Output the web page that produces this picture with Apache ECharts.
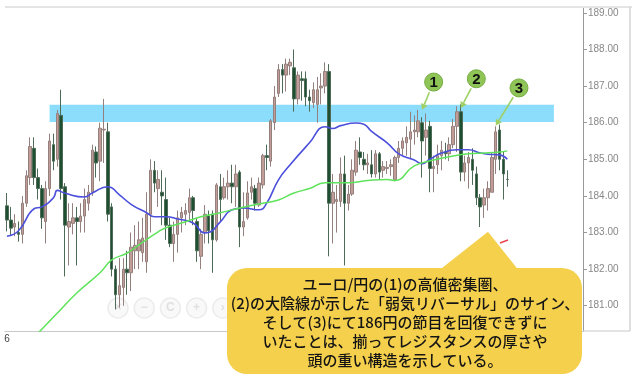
<!DOCTYPE html>
<html>
<head>
<meta charset="utf-8">
<script src="https://cdn.jsdelivr.net/npm/echarts@6/dist/echarts.min.js"></script>
<style>
  html, body { margin: 0; padding: 0; background: #fff; }
  #chart { width: 640px; height: 380px; }
</style>
</head>
<body>
<div id="chart"></div>
<script>
// 149 slots on the time axis, candles fill the first 130
const slotCount = 149
const firstLabel = '6'

// [open, close, low, high]
const ohlc = [
  [183.73, 183.34, 183.03, 184.08], [183.34, 183.12, 182.93, 183.7], [183.15, 183.25, 182.9, 183.5],
  [183.0, 182.95, 182.75, 183.3], [182.95, 183.8, 182.7, 184.0], [183.8, 184.55, 183.7, 184.7],
  [184.5, 185.35, 184.3, 185.6], [185.3, 184.5, 184.3, 185.6], [184.5, 184.2, 183.9, 184.75],
  [184.2, 183.4, 183.1, 184.3], [183.3, 184.2, 182.7, 184.4], [184.2, 185.5, 184.0, 185.7],
  [185.4, 184.95, 184.7, 185.7], [185.0, 186.25, 184.8, 186.35], [186.2, 184.2, 183.9, 186.9],
  [184.25, 183.2, 181.8, 184.35], [183.15, 183.3, 182.1, 183.8], [183.25, 183.4, 182.95, 183.8],
  [183.4, 183.3, 182.1, 183.7], [183.3, 183.45, 183.0, 183.8], [183.45, 183.9, 183.0, 184.2],
  [183.8, 184.1, 183.6, 184.3], [184.1, 185.25, 184.0, 185.4], [185.2, 184.9, 184.5, 185.35],
  [184.95, 185.85, 184.4, 186.0], [185.8, 185.82, 184.9, 186.65], [185.75, 183.5, 183.3, 186.0],
  [183.7, 182.0, 181.8, 183.8], [182.0, 181.3, 180.9, 182.1], [181.3, 181.55, 180.95, 182.3],
  [181.5, 182.0, 181.0, 182.3], [182.0, 181.9, 181.3, 182.5], [181.9, 182.6, 181.4, 183.0],
  [182.5, 182.65, 182.0, 183.2], [182.5, 182.8, 182.0, 183.3], [182.45, 182.85, 182.2, 183.4],
  [182.2, 183.5, 181.9, 184.1], [183.5, 184.7, 183.0, 185.0], [184.7, 184.35, 184.1, 184.95],
  [184.2, 184.45, 183.7, 184.7], [184.1, 184.0, 183.2, 184.7], [183.9, 183.2, 182.8, 184.5],
  [183.2, 182.7, 182.6, 183.4], [182.7, 182.95, 182.2, 183.3], [182.95, 183.4, 182.45, 183.6],
  [183.4, 183.55, 183.0, 183.7], [183.5, 183.6, 183.2, 183.8], [183.55, 183.95, 183.3, 184.2],
  [183.95, 183.6, 183.2, 184.0], [183.3, 182.5, 182.2, 183.4], [182.35, 182.95, 182.0, 183.1],
  [183.0, 183.5, 182.7, 183.75], [183.45, 183.05, 182.7, 183.6], [183.5, 182.8, 181.9, 183.6],
  [182.8, 184.3, 182.75, 184.35], [184.25, 183.9, 183.3, 184.6], [183.95, 184.25, 183.9, 184.5],
  [184.25, 184.35, 183.9, 184.7], [184.35, 184.25, 183.8, 184.85], [184.25, 184.6, 183.7, 184.85],
  [184.65, 183.15, 182.6, 184.7], [183.15, 183.3, 182.9, 184.1], [183.4, 184.08, 183.35, 184.4],
  [184.1, 184.25, 183.9, 184.5], [184.2, 183.8, 183.6, 184.3], [183.75, 184.35, 183.7, 184.5],
  [184.3, 185.1, 184.2, 185.15], [185.1, 185.05, 184.7, 185.4], [184.95, 186.05, 184.8, 186.1],
  [186.0, 186.7, 185.8, 187.0], [186.8, 187.45, 186.7, 187.6], [187.45, 187.3, 186.8, 187.6],
  [187.3, 187.6, 186.85, 187.75], [187.55, 187.65, 187.3, 187.75], [187.5, 186.65, 186.3, 188.0],
  [186.65, 187.3, 186.5, 187.4], [187.2, 187.15, 186.6, 187.4], [187.2, 186.7, 186.45, 187.4],
  [186.7, 186.6, 186.3, 186.9], [186.55, 186.9, 186.4, 187.1], [186.5, 186.9, 186.0, 187.25],
  [186.95, 187.0, 186.5, 187.35], [187.0, 187.4, 186.8, 187.65], [187.4, 183.8, 182.35, 187.6],
  [183.8, 184.1, 182.7, 184.6], [183.85, 183.9, 183.0, 184.3], [183.85, 184.6, 183.7, 185.05],
  [184.6, 183.8, 182.1, 185.1], [183.8, 184.05, 183.6, 184.3], [184.05, 184.7, 184.0, 185.0],
  [184.65, 185.25, 184.55, 185.5], [185.2, 185.05, 184.85, 185.6], [185.0, 184.85, 184.7, 185.2],
  [184.85, 184.9, 184.6, 185.15], [184.85, 184.6, 184.5, 185.25], [184.6, 185.15, 184.5, 185.25],
  [185.15, 184.65, 184.45, 185.2], [184.7, 184.8, 184.5, 184.95], [184.75, 184.78, 184.6, 184.95],
  [184.8, 184.85, 184.55, 185.0], [184.45, 185.05, 184.4, 185.1], [185.05, 185.3, 184.9, 185.5],
  [185.3, 185.5, 185.1, 185.6], [185.45, 185.6, 185.1, 185.9], [185.55, 185.75, 185.0, 186.3],
  [185.75, 185.8, 185.4, 186.2], [185.75, 186.05, 185.6, 186.35], [186.0, 185.5, 184.5, 186.15],
  [185.6, 185.8, 185.1, 186.25], [185.9, 184.75, 184.1, 186.05], [184.75, 184.8, 184.1, 185.1],
  [184.85, 185.1, 184.6, 185.4], [185.1, 185.25, 184.7, 185.5], [185.2, 185.15, 185.0, 185.45],
  [185.15, 185.4, 184.95, 185.6], [185.4, 185.9, 185.3, 186.1], [185.9, 186.3, 185.2, 186.45],
  [186.3, 184.65, 184.4, 186.5], [184.65, 184.9, 184.4, 185.1], [184.9, 185.05, 184.2, 185.2],
  [185.0, 184.7, 184.3, 185.3], [184.6, 183.95, 183.75, 184.8], [183.95, 183.7, 183.15, 184.05],
  [183.75, 183.95, 183.4, 184.2], [183.95, 184.2, 183.6, 184.4], [184.1, 185.05, 184.1, 185.2],
  [185.0, 185.75, 184.6, 185.9], [185.8, 185.0, 184.7, 185.95], [185.0, 184.6, 183.9, 185.2],
  [184.45, 184.45, 184.25, 184.7]
]

// moving averages: [slot index, price]
const maShort = [
  [0, 182.9], [3, 183.05], [7, 183.65], [9, 183.7], [12, 183.95], [13, 184.15], [15, 184.07],
  [20, 183.97], [22, 184.08], [26, 184.25], [29, 184.03], [32, 183.77], [36, 183.54], [38, 183.43],
  [41, 183.43], [44, 183.37], [48, 183.26], [51, 182.99], [52, 183.0], [55, 183.29], [58, 183.62],
  [61, 183.67], [65, 183.62], [67, 183.81], [70, 184.44], [73, 184.85], [78, 185.45], [82, 185.89],
  [84, 185.84], [86, 185.92], [90, 185.99], [92, 185.96], [94, 185.76], [98, 185.45], [101, 185.15],
  [105, 184.98], [107, 184.88], [109, 185.0], [112, 185.17], [116, 185.26], [119, 185.26],
  [122, 185.17], [124, 185.14], [127, 185.12], [129, 185.0]
]
const maLong = [
  [8, 180.25], [13, 180.8], [18, 181.35], [24, 181.9], [27, 182.25], [31, 182.44], [35, 182.74],
  [39, 183.02], [41, 183.13], [45, 183.26], [50, 183.43], [55, 183.54], [60, 183.67], [65, 183.78],
  [70, 183.89], [74, 184.08], [78, 184.2], [82, 184.36], [88, 184.36], [93, 184.42], [98, 184.45],
  [100, 184.42], [105, 184.82], [110, 184.98], [114, 185.07], [119, 185.15], [123, 185.17],
  [127, 185.2], [129, 185.23]
]

// resistance band (price) and its span (slot index)
const bandPrice = [186.02, 186.49]
const bandSlots = [10.6, 141.3]

// numbered markers: arrow tip and circle centre in data coords
const markerLabels = ['1', '2', '3']
const markerTips = [[106.7, 186.35], [117.05, 186.4], [126.3, 185.92]]
const markerCentres = [[109.6, 187.11], [121.2, 187.2], [132.0, 186.95]]

const calloutTip = [123.75, 183.02]
const calloutLines = [
  'ユーロ/円の(1)の高値密集圏、',
  '(2)の大陰線が示した「弱気リバーサル」のサイン、',
  'そして(3)にて186円の節目を回復できずに',
  'いたことは、揃ってレジスタンスの厚さや',
  '頭の重い構造を示している。'
]

const categories = []
for (let i = 0; i < slotCount; i++) categories.push(i === 0 ? firstLabel : 's' + i)

const chart = echarts.init(document.getElementById('chart'))

chart.setOption({
  animation: false,
  backgroundColor: '#fff',
  grid: { left: 5, right: 57, top: 7, bottom: 49 },
  xAxis: {
    type: 'category',
    data: categories,
    boundaryGap: true,
    axisLine: { lineStyle: { color: '#c8c8c8', width: 1 } },
    axisTick: { length: 4, interval: (i) => i % 20 === 1, lineStyle: { color: '#c8c8c8' } },
    axisLabel: {
      interval: (i) => i === 0,
      color: '#444', fontSize: 10, margin: 3,
      fontFamily: 'Liberation Sans'
    },
    splitLine: { show: false }
  },
  yAxis: {
    type: 'value',
    position: 'right',
    min: 180.31,
    max: 189.16,
    splitNumber: 9,
    scale: true,
    axisLine: { show: true, lineStyle: { color: '#999' } },
    axisTick: { show: true, length: 4, lineStyle: { color: '#999' } },
    axisLabel: {
      showMinLabel: false, showMaxLabel: false,
      formatter: (v) => v.toFixed(2),
      color: '#888', fontSize: 10, margin: 5, fontFamily: 'Liberation Sans'
    },
    splitLine: { show: false }
  },
  series: [
    {
      type: 'candlestick',
      data: ohlc,
      barWidth: 3,
      itemStyle: {
        color: '#c29c96',
        borderColor: '#94807d',
        color0: '#1e4f30',
        borderColor0: '#4d6b57',
        borderWidth: 1
      },
      z: 2
    },
    {
      type: 'line', data: maShort, smooth: true, showSymbol: false, z: 3,
      lineStyle: { color: '#4b4fdc', width: 1.6 }
    },
    {
      type: 'line', data: maLong, smooth: true, showSymbol: false, z: 3,
      lineStyle: { color: '#5ee35a', width: 1.5 }
    },
    {
      type: 'line', data: [], z: 4,
      markArea: {
        silent: true,
        itemStyle: { color: 'rgba(70, 200, 250, 0.62)' },
        data: [[
          { xAxis: bandSlots[0], yAxis: bandPrice[0] },
          { xAxis: bandSlots[1], yAxis: bandPrice[1] }
        ]]
      }
    }
  ]
})

const px = (p) => chart.convertToPixel({ xAxisIndex: 0, yAxisIndex: 0 }, p)
const graphics = []

// frame lines around the plot
graphics.push({ type: 'line', shape: { x1: 5, y1: 7, x2: 632, y2: 7 }, style: { stroke: '#e4e4e4', lineWidth: 2 }, z: 1 })
graphics.push({ type: 'line', shape: { x1: 630, y1: 7, x2: 630, y2: 331 }, style: { stroke: '#d4d4d4', lineWidth: 1.5 }, z: 1 })
graphics.push({ type: 'line', shape: { x1: 583, y1: 331, x2: 630, y2: 331 }, style: { stroke: '#c8c8c8', lineWidth: 1 }, z: 1 })

// faint zoom buttons
const btnGlyphs = ['×', '−', 'C', '+', '›']
btnGlyphs.forEach((g, i) => {
  const cx = 118 + i * 26.2
  graphics.push({ type: 'circle', shape: { cx: cx, cy: 308, r: 10 }, style: { fill: 'rgba(245,245,245,0.6)', stroke: '#ececec', lineWidth: 1.5 }, z: 1 })
  graphics.push({ type: 'text', x: cx, y: 308, style: { text: g, fill: '#e0e0e0', font: 'bold 12px Liberation Sans', align: 'center', verticalAlign: 'middle' }, z: 1 })
})

// numbered markers with arrows
markerLabels.forEach((lab, i) => {
  const tip = px(markerTips[i])
  const c = px(markerCentres[i])
  const r = 9
  const dx = tip[0] - c[0], dy = tip[1] - c[1]
  const len = Math.sqrt(dx * dx + dy * dy)
  const ux = dx / len, uy = dy / len
  const sx = c[0] + ux * (r + 2), sy = c[1] + uy * (r + 2)
  const hx = tip[0] - ux * 6, hy = tip[1] - uy * 6
  graphics.push({ type: 'line', shape: { x1: sx, y1: sy, x2: hx, y2: hy }, style: { stroke: '#9ed066', lineWidth: 1.6 }, z: 20 })
  graphics.push({
    type: 'polygon',
    shape: { points: [[tip[0], tip[1]], [hx - uy * 3.5, hy + ux * 3.5], [hx + uy * 3.5, hy - ux * 3.5]] },
    style: { fill: '#9ed066' }, z: 20
  })
  graphics.push({ type: 'circle', shape: { cx: c[0], cy: c[1], r: r }, style: { fill: '#8fc556', stroke: '#76ad42', lineWidth: 1 }, z: 20 })
  graphics.push({ type: 'text', x: c[0], y: c[1] + 1, style: { text: lab, fill: '#111', font: 'bold 15px Liberation Sans', align: 'center', verticalAlign: 'middle' }, z: 21 })
})

// small red stub
graphics.push({ type: 'line', shape: { x1: 500, y1: 243, x2: 508, y2: 240 }, style: { stroke: '#e8454f', lineWidth: 1.5 }, z: 5 })

// yellow callout
const tipPx = px(calloutTip)
graphics.push({
  type: 'polygon',
  shape: { points: [[tipPx[0], tipPx[1]], [437, 272], [520, 272]] },
  style: { fill: '#f5d04c' }, z: 30
})
graphics.push({ type: 'rect', shape: { x: 227, y: 268, width: 355, height: 106, r: 20 }, style: { fill: '#f5d04c' }, z: 30 })
graphics.push({
  type: 'text', x: 405, y: 275,
  style: {
    text: calloutLines.join('\n'), fill: '#151515',
    font: '500 15px "Noto Sans CJK JP"', align: 'center', verticalAlign: 'top', lineHeight: 19
  },
  z: 31
})

chart.setOption({ graphic: graphics })
</script>
</body>
</html>
